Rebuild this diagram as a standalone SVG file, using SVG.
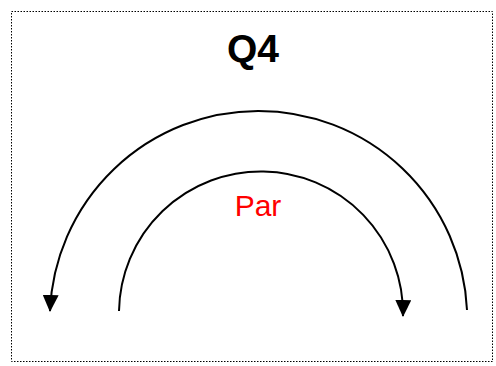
<svg xmlns="http://www.w3.org/2000/svg" width="496" height="366" viewBox="0 0 496 366">
<style>
.frame{fill:#fff;stroke:#000;stroke-width:1;stroke-dasharray:1.5 1.5}
.arc{fill:none;stroke:#000;stroke-width:2}
.title{font-family:"Liberation Sans",Arial,sans-serif;font-weight:bold;font-size:39px;fill:#000;text-anchor:middle}
.lbl{font-family:"Liberation Sans",Arial,sans-serif;font-size:30px;fill:#ff0000;text-anchor:middle}
</style>
<defs>
<marker id="ah" markerUnits="userSpaceOnUse" markerWidth="17" markerHeight="16" viewBox="0 0 17 16" refX="16" refY="8" orient="auto">
<path d="M0,0 L17,8 L0,16 Z" fill="#000"/>
</marker>
</defs>
<rect class="frame" x="11.5" y="11.5" width="481" height="350"/>
<g id="title"><text class="title" x="253" y="62">Q4</text></g>
<g id="connectors">
<path id="outer" class="arc" d="M467,310 A208.7,208.7 0 0 0 50,311" marker-end="url(#ah)"/>
<path id="inner" class="arc" d="M119,311 A142,142 0 1 1 403,316" marker-end="url(#ah)"/>
</g>
<g id="label"><text class="lbl" x="258" y="216">Par</text></g>
</svg>
